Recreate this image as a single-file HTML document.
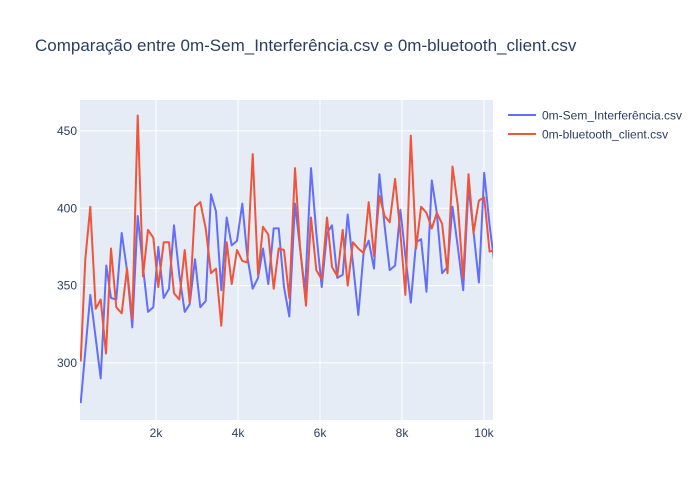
<!DOCTYPE html>
<html><head><meta charset="utf-8">
<style>
body{margin:0;background:#fff;}
svg{display:block;font-family:"Liberation Sans",Arial,sans-serif;}
</style></head>
<body>
<svg id="chart" width="700" height="500">
  <rect x="0" y="0" width="700" height="500" fill="#fff"/>
  <text x="35" y="51" font-size="17" fill="#2a3f5f">Comparação entre 0m-Sem_Interferência.csv e 0m-bluetooth_client.csv</text>
  <rect x="80" y="100" width="413" height="320" fill="#e5ecf6"/>
  <clipPath id="clip"><rect x="80" y="100" width="413" height="320"/></clipPath>
  <g id="grid"></g>
  <g id="series" clip-path="url(#clip)"></g>
  <g id="ticks"></g>
  <g>
    <g>
      <line x1="508" y1="115" x2="536" y2="115" stroke="#636efa" stroke-width="2"/>
      <text x="542" y="119.5" font-size="12" fill="#2a3f5f">0m-Sem_Interferência.csv</text>
    </g>
    <g>
      <line x1="508" y1="134" x2="536" y2="134" stroke="#EF553B" stroke-width="2"/>
      <text x="542" y="138.5" font-size="12" fill="#2a3f5f">0m-bluetooth_client.csv</text>
    </g>
  </g>
</svg>
<script>
const blueX = [164,397,651,788,902,1031,1163,1293,1422,1554,1683,1805,1935,2057,2187,2317,2439,2569,2700,2822,2951,3081,3212,3341,3463,3593,3724,3846,3976,4105,4227,4358,4488,4610,4740,4870,4993,5122,5252,5390,5634,5780,5910,6041,6171,6293,6422,6553,6675,6805,6935,7066,7188,7318,7449,7579,7701,7831,7962,8084,8214,8344,8466,8597,8727,8849,8979,9110,9232,9362,9493,9623,9745,9875,10005,10136,10266];
const blueY = [274,344,290,363,342,341,384,360,323,395,362,333,336,375,342,348,389,357,333,338,367,336,340,409,398,347,394,376,379,403,369,348,355,374,351,387,387,349,330,403,346,426,384,349,384,389,355,357,396,364,331,372,379,361,422,388,360,363,399,369,339,378,380,346,418,397,358,362,401,375,347,414,385,352,423,389,362];
const redX = [164,276,397,528,651,780,902,1031,1163,1293,1422,1554,1683,1805,1935,2057,2187,2317,2439,2569,2700,2822,2951,3081,3212,3341,3463,3593,3724,3846,3976,4105,4227,4358,4488,4610,4740,4870,4993,5122,5252,5390,5512,5658,5780,5910,6041,6171,6293,6422,6553,6675,6805,6935,7066,7188,7318,7449,7579,7701,7831,7962,8084,8214,8344,8466,8597,8727,8849,8979,9110,9232,9362,9493,9623,9745,9875,10005,10136,10266];
const redY = [301,367,401,335,341,306,374,336,332,361,328,460,356,386,381,349,378,378,345,341,373,339,401,404,387,358,361,324,378,351,373,366,365,435,357,388,383,348,374,373,342,426,375,337,394,360,354,394,362,356,386,350,378,374,371,404,369,408,395,391,419,384,344,447,374,401,397,387,397,390,358,427,402,355,422,384,405,407,372,373];
const xTicks = [2000,4000,6000,8000,10000];
const xTickLabels = ["2k","4k","6k","8k","10k"];
const yTicks = [300,350,400,450];
const yTickLabels = ["300","350","400","450"];

const X0=146, X1=10220, Y0=263.1, Y1=470;
const L=80, R=493, T=100, B=420;
function sx(v){return L+(v-X0)/(X1-X0)*(R-L);}
function sy(v){return B-(v-Y0)/(Y1-Y0)*(B-T);}
const NS="http://www.w3.org/2000/svg";
const grid=document.getElementById('grid'), ticks=document.getElementById('ticks'), series=document.getElementById('series');
xTicks.forEach((t,i)=>{
  const l=document.createElementNS(NS,'line');
  l.setAttribute('x1',sx(t));l.setAttribute('x2',sx(t));l.setAttribute('y1',T);l.setAttribute('y2',B);
  l.setAttribute('stroke','#fff');l.setAttribute('stroke-width','1');
  
  
  grid.appendChild(l);
  const tx=document.createElementNS(NS,'text');
  tx.setAttribute('x',sx(t));tx.setAttribute('y',B+13+4);tx.setAttribute('text-anchor','middle');
  tx.setAttribute('font-size','12');tx.setAttribute('fill','#2a3f5f');tx.textContent=xTickLabels[i];
  
  
  ticks.appendChild(tx);
});
yTicks.forEach((t,i)=>{
  const l=document.createElementNS(NS,'line');
  l.setAttribute('x1',L);l.setAttribute('x2',R);l.setAttribute('y1',sy(t));l.setAttribute('y2',sy(t));
  l.setAttribute('stroke','#fff');l.setAttribute('stroke-width','1');
  
  
  grid.appendChild(l);
  const tx=document.createElementNS(NS,'text');
  tx.setAttribute('x',L-3);tx.setAttribute('y',sy(t)+4);tx.setAttribute('text-anchor','end');
  tx.setAttribute('font-size','12');tx.setAttribute('fill','#2a3f5f');tx.textContent=yTickLabels[i];
  
  
  ticks.appendChild(tx);
});
function line(xs,ys,color,name){
  const p=document.createElementNS(NS,'polyline');
  p.setAttribute('points',xs.map((x,i)=>sx(x).toFixed(1)+','+sy(ys[i]).toFixed(1)).join(' '));
  p.setAttribute('fill','none');p.setAttribute('stroke',color);p.setAttribute('stroke-width','2');
  p.setAttribute('stroke-linejoin','round');
  
  
  series.appendChild(p);
}
line(blueX,blueY,'#636efa','series-sem-interferencia');
line(redX,redY,'#EF553B','series-bluetooth-client');
</script>
</body></html>
